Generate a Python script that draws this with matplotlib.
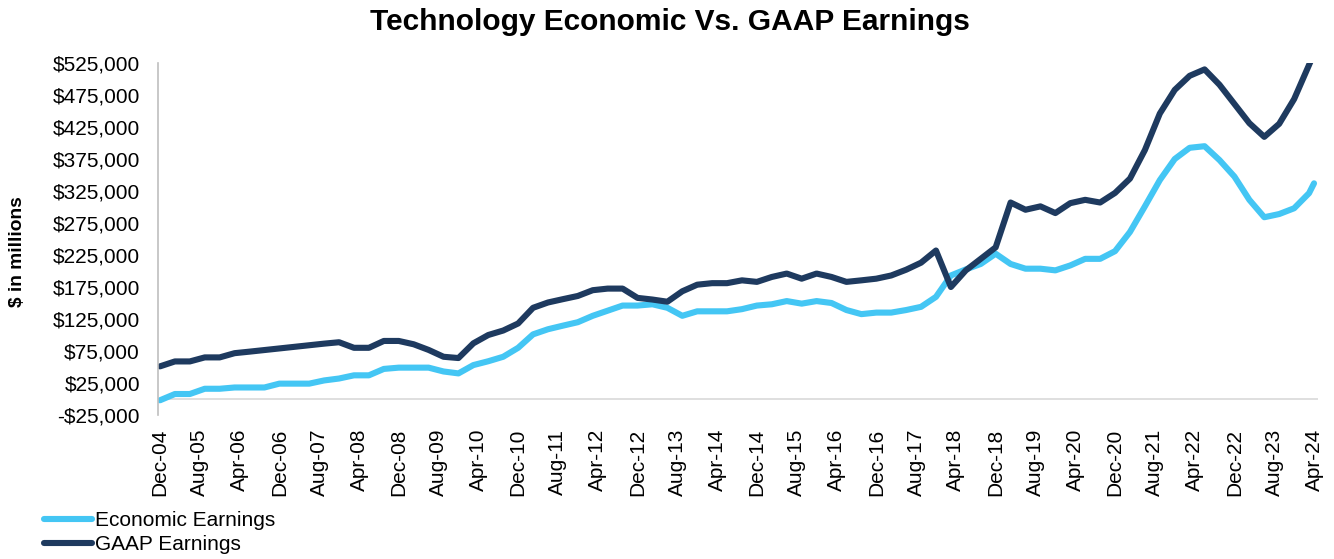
import pandas as pd
import matplotlib
matplotlib.use("Agg")
import matplotlib.pyplot as plt
from matplotlib.ticker import FuncFormatter

# quarterly points Dec-04 .. Mar-24, plus the latest Apr-24 reading
dates = list(pd.date_range("2004-12-01", "2024-03-01", freq="3MS")) + [pd.Timestamp("2024-04-01")]

economic = [
    -2000, 7800, 7800, 16000, 16000, 18000, 18000, 18000, 24000, 24000,
    24000, 29000, 32000, 37000, 37000, 47000, 49000, 49000, 49000, 43000,
    40000, 53000, 59000, 66000, 80000, 101000, 109000, 114600, 120000, 130000,
    138000, 146000, 146000, 148000, 142500, 130000, 137000, 137000, 137000, 140400,
    146000, 148000, 153000, 149000, 153000, 150000, 139000, 132600, 135000, 135000,
    139000, 144000, 159600, 193000, 202500, 211000, 227000, 211000, 203600, 203600,
    201000, 208700, 219000, 219000, 231000, 261000, 301000, 342000, 375000, 392500,
    395000, 373300, 347500, 311200, 284000, 289000, 298000, 321600, 337000,
]

gaap = [
    51000, 58700, 58700, 65000, 65000, 71600, 74000, 76500, 79000, 81500,
    84000, 86500, 88700, 80000, 80000, 90700, 90700, 85500, 76700, 66000,
    64000, 87000, 100000, 107000, 118000, 142500, 150800, 156000, 161000, 170000,
    172500, 172500, 158000, 155400, 152000, 168300, 178600, 181000, 181000, 185400,
    183000, 190700, 196000, 188000, 196000, 190700, 183000, 185400, 188000, 193000,
    202000, 213000, 232000, 175000, 201000, 219000, 237000, 307000, 295700, 301000,
    290500, 306000, 311200, 307000, 322000, 344400, 389000, 446000, 483000, 505000,
    515000, 491000, 461000, 431000, 409600, 430000, 468600, 522000, 540000,
]

ECON_COLOR = "#44C6F4"
GAAP_COLOR = "#1E3A5F"


def dollar(v, _):
    if v < 0:
        return f"-${-v:,.0f}"
    return f"${v:,.0f}"


def main():
    plt.rcParams["font.family"] = ["Liberation Sans", "DejaVu Sans"]

    # month offset from Dec-04 (Excel-style month base unit)
    x = [(d.year - 2004) * 12 + d.month - 12 for d in dates]

    fig = plt.figure(figsize=(13.34, 5.59), dpi=100)
    ax = fig.add_axes([158 / 1334, 1 - 415 / 559, (1318 - 158) / 1334, (415 - 63) / 559])

    line_kw = dict(linewidth=4.4, solid_joinstyle="round", solid_capstyle="round")
    ax.plot(x, economic, color=ECON_COLOR, label="Economic Earnings", **line_kw)
    ax.plot(x, gaap, color=GAAP_COLOR, label="GAAP Earnings", **line_kw)

    ax.set_ylim(-25000, 525000)
    ax.set_xlim(-0.4, 232.8)
    ax.set_yticks(range(-25000, 525001, 50000))
    ax.yaxis.set_major_formatter(FuncFormatter(dollar))

    tick_pos = list(range(0, 233, 8))
    tick_lab = [(pd.Timestamp("2004-12-01") + pd.DateOffset(months=m)).strftime("%b-%y") for m in tick_pos]
    ax.set_xticks(tick_pos)
    ax.set_xticklabels(tick_lab, rotation=90)

    ax.tick_params(axis="y", length=0, pad=13, labelsize=15)
    ax.tick_params(axis="x", length=0, pad=10, labelsize=15)

    for side in ["top", "right", "bottom"]:
        ax.spines[side].set_visible(False)
    ax.spines["left"].set_color("#BFBFBF")
    ax.spines["left"].set_linewidth(1.2)
    ax.axhline(0, color="#D9D9D9", linewidth=1.2, zorder=0)

    fig.text(18 / 1334, 1 - 252 / 559, "$ in millions", rotation=90, ha="center", va="center",
             fontsize=13.8, fontweight="bold")
    fig.text(0.502, 1 - 22 / 559, "Technology Economic Vs. GAAP Earnings", ha="center", va="center",
             fontsize=21.5, fontweight="bold")

    fig.legend(loc="upper left", bbox_to_anchor=(44 / 1334, 1 - 511 / 559), frameon=False,
               borderpad=0, borderaxespad=0, handlelength=2.3, handletextpad=0.15,
               labelspacing=0.25, fontsize=15)

    fig.savefig("out.png", dpi=100)


if __name__ == "__main__":
    main()
